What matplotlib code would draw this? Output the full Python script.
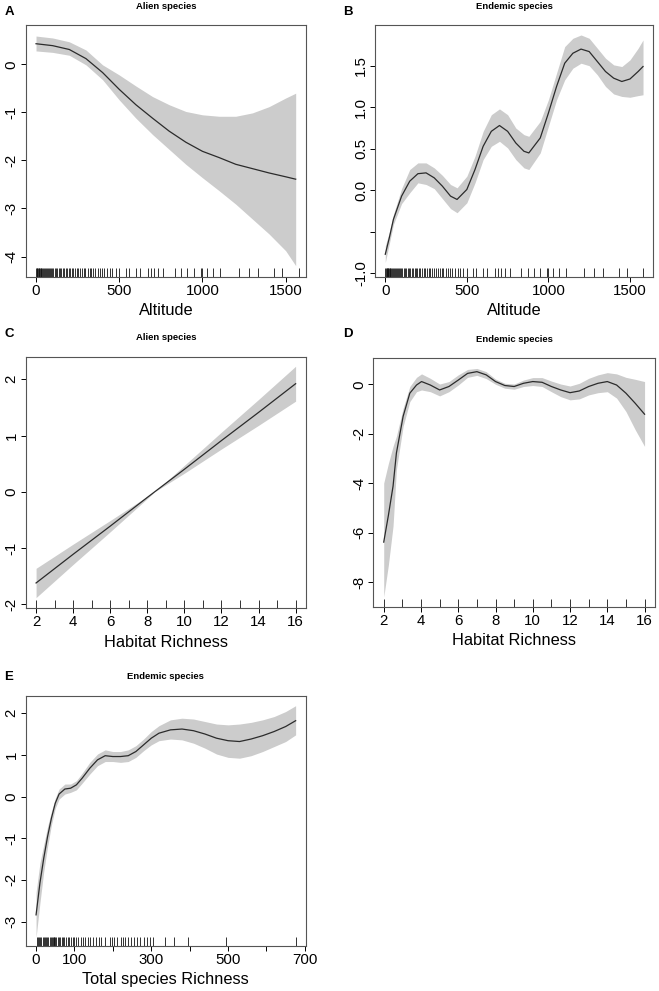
import numpy as np
import matplotlib
matplotlib.use("Agg")
import matplotlib.pyplot as plt
import matplotlib.transforms as mtransforms

plt.rcParams['font.family'] = ['Liberation Sans', 'DejaVu Sans']

# ---- panel A: alien species vs altitude
alt_a = [0, 100, 200, 300, 400, 500, 600, 700, 800, 900, 1000, 1100, 1200, 1300, 1400, 1500, 1560]
fit_a = [0.43, 0.39, 0.31, 0.12, -0.17, -0.52, -0.84, -1.12, -1.39, -1.62, -1.81, -1.94, -2.08, -2.17, -2.26, -2.34, -2.39]
hi_a = [0.59, 0.55, 0.47, 0.30, -0.01, -0.22, -0.45, -0.67, -0.84, -0.98, -1.05, -1.08, -1.08, -1.01, -0.88, -0.70, -0.60]
lo_a = [0.28, 0.25, 0.19, -0.01, -0.32, -0.74, -1.12, -1.46, -1.77, -2.08, -2.36, -2.63, -2.91, -3.22, -3.53, -3.88, -4.19]

# ---- panel B: endemic species vs altitude
alt_b = [0, 25, 50, 100, 150, 200, 250, 300, 350, 400, 440, 500, 550, 600, 650, 700, 750, 800, 850, 880,
         950, 1000, 1050, 1100, 1150, 1200, 1250, 1300, 1350, 1400, 1450, 1500, 1550, 1580]
fit_b = [-0.77, -0.57, -0.35, -0.07, 0.11, 0.20, 0.21, 0.15, 0.05, -0.07, -0.11, 0.01, 0.25, 0.53, 0.71, 0.78, 0.71, 0.57, 0.47, 0.45,
         0.63, 0.93, 1.25, 1.53, 1.65, 1.70, 1.67, 1.55, 1.43, 1.35, 1.31, 1.34, 1.43, 1.49]
hi_b = [-0.67, -0.50, -0.29, 0.02, 0.25, 0.33, 0.33, 0.27, 0.18, 0.07, 0.03, 0.17, 0.41, 0.71, 0.91, 0.98, 0.91, 0.75, 0.67, 0.65,
        0.83, 1.09, 1.41, 1.73, 1.83, 1.87, 1.83, 1.71, 1.59, 1.51, 1.49, 1.57, 1.71, 1.81]
lo_b = [-0.87, -0.64, -0.41, -0.16, -0.03, 0.09, 0.07, 0.02, -0.10, -0.22, -0.27, -0.15, 0.09, 0.37, 0.53, 0.59, 0.51, 0.37, 0.27, 0.25,
        0.45, 0.77, 1.09, 1.33, 1.47, 1.53, 1.50, 1.39, 1.25, 1.16, 1.13, 1.12, 1.14, 1.15]

alt_rug = [0, 4, 8, 12, 15, 19, 23, 27, 30, 35, 40, 46, 52, 58, 63, 70, 76, 83, 90, 97, 104, 112, 120, 128,
           137, 146, 153, 161, 170, 180, 188, 197, 205, 214, 225, 236, 244, 255, 266, 276, 288, 297, 310,
           322, 333, 345, 356, 370, 383, 398, 410, 425, 447, 458, 478, 498, 539, 559, 600, 626, 671, 691,
           711, 732, 762, 833, 874, 910, 948, 992, 1000, 1030, 1062, 1107, 1220, 1282, 1334, 1430, 1480, 1578]

# ---- panel C: alien species vs habitat richness (linear)
hab_c = [2, 4, 6, 8, 8.4, 10, 12, 14, 16]
fit_c = [-1.62, -1.11, -0.61, -0.10, 0.0, 0.40, 0.91, 1.41, 1.92]
hi_c = [-1.36, -0.93, -0.51, -0.08, 0.0, 0.47, 1.06, 1.64, 2.23]
lo_c = [-1.88, -1.29, -0.71, -0.12, 0.0, 0.33, 0.76, 1.18, 1.61]

# ---- panel D: endemic species vs habitat richness
hab_d = [2, 2.25, 2.5, 2.68, 3.04, 3.4, 3.76, 4.03, 4.5, 5, 5.5, 6, 6.5, 7, 7.5, 8, 8.5, 9, 9.5, 10,
         10.5, 11, 11.5, 12, 12.5, 13, 13.5, 14, 14.5, 15, 15.5, 16]
fit_d = [-6.38, -5.30, -4.12, -2.78, -1.30, -0.36, -0.03, 0.11, -0.03, -0.23, -0.09, 0.17, 0.44, 0.51, 0.38, 0.11, -0.05, -0.09, 0.04, 0.11,
         0.08, -0.09, -0.23, -0.34, -0.27, -0.09, 0.04, 0.11, -0.03, -0.36, -0.77, -1.21]
hi_d = [-3.99, -3.20, -2.51, -2.10, -0.97, -0.09, 0.28, 0.42, 0.24, 0.01, 0.11, 0.38, 0.60, 0.64, 0.51, 0.21, 0.04, 0.01, 0.17, 0.27,
        0.27, 0.13, 0.01, -0.07, 0.04, 0.24, 0.38, 0.47, 0.42, 0.28, 0.20, 0.11]
lo_d = [-8.60, -7.30, -5.73, -3.45, -1.70, -0.70, -0.30, -0.23, -0.30, -0.47, -0.30, -0.03, 0.28, 0.36, 0.23, 0.00, -0.16, -0.20, -0.09, -0.05,
        -0.09, -0.30, -0.50, -0.63, -0.59, -0.43, -0.34, -0.30, -0.56, -1.10, -1.84, -2.51]
hab_rug = [2, 3, 4, 5, 6, 7, 8, 9, 10, 11, 12, 13, 14, 15, 16]

# ---- panel E: endemic species vs total species richness
tot_e = [0, 10, 20, 30, 40, 50, 60, 75, 90, 105, 120, 140, 160, 180, 200, 220, 240, 260, 280, 300,
         320, 350, 380, 410, 440, 470, 500, 530, 560, 590, 620, 650, 676]
fit_e = [-2.84, -2.08, -1.48, -0.96, -0.52, -0.16, 0.06, 0.18, 0.20, 0.28, 0.44, 0.68, 0.88, 0.98, 0.96, 0.96, 0.98, 1.08, 1.24, 1.40,
         1.52, 1.60, 1.62, 1.58, 1.50, 1.40, 1.34, 1.32, 1.38, 1.46, 1.56, 1.68, 1.82]
hi_e = [-2.30, -1.60, -1.16, -0.72, -0.36, -0.04, 0.18, 0.30, 0.30, 0.38, 0.56, 0.82, 1.02, 1.12, 1.08, 1.08, 1.12, 1.22, 1.38, 1.56,
        1.70, 1.84, 1.88, 1.86, 1.80, 1.74, 1.72, 1.74, 1.78, 1.84, 1.92, 2.04, 2.18]
lo_e = [-3.38, -2.56, -1.80, -1.20, -0.68, -0.28, -0.06, 0.06, 0.10, 0.16, 0.32, 0.54, 0.74, 0.84, 0.84, 0.82, 0.84, 0.94, 1.10, 1.24,
        1.34, 1.38, 1.36, 1.28, 1.16, 1.02, 0.94, 0.92, 0.98, 1.08, 1.20, 1.32, 1.48]
tot_rug = [2, 5, 8, 11, 14, 17, 20, 23, 26, 29, 32, 35, 38, 41, 44, 46, 48, 50, 53, 56, 60, 63, 67, 70, 74,
           78, 82, 86, 90, 95, 100, 105, 110, 116, 122, 128, 134, 140, 148, 155, 163, 170, 180, 192, 198,
           204, 212, 220, 226, 232, 240, 248, 256, 262, 270, 280, 290, 298, 305, 337, 360, 395, 494, 676]

W, H = 659, 991
fig = plt.figure(figsize=(W / 100, H / 100), dpi=100)


def px_axes(l, t, r, b):
    return fig.add_axes([l / W, 1 - b / H, (r - l) / W, (b - t) / H])


def panel(ax, x, fit, lo, hi, rug, xlim, ylim, xticks, xlabels, yticks, ylabels, xlabel, title, letter, lpos):
    ax.fill_between(x, lo, hi, color='#cccccc', lw=0)
    ax.plot(x, fit, color='#2b2b2b', lw=0.9)
    trans = mtransforms.blended_transform_factory(ax.transData, ax.transAxes)
    ax.vlines(rug, 0, 0.033, transform=trans, color='#111111', lw=0.6)
    ax.set_xlim(*xlim)
    ax.set_ylim(*ylim)
    ax.set_xticks(xticks)
    ax.set_xticklabels(xlabels)
    ax.set_yticks(yticks)
    ax.set_yticklabels(ylabels, rotation=90, va='center')
    ax.tick_params(direction='out', length=3.6, width=0.7, labelsize=10.8, pad=1.5)
    for s in ax.spines.values():
        s.set_color('#555555')
        s.set_linewidth(0.8)
    ax.set_xlabel(xlabel, fontsize=11.8, labelpad=4)
    ax.annotate(title, xy=(0.5, 1), xycoords='axes fraction', xytext=(0, 13.5),
                textcoords='offset points', ha='center', va='center', fontsize=6.8, fontweight='bold')
    fig.text(lpos[0] / W, 1 - lpos[1] / H, letter, ha='center', va='center', fontsize=9.5, fontweight='bold')


axA = px_axes(25.7, 25, 306, 276.7)
panel(axA, alt_a, fit_a, lo_a, hi_a, alt_rug, (-62, 1622), (-4.42, 0.82),
      [0, 500, 1000, 1500], ['0', '500', '1000', '1500'],
      [0, -1, -2, -3, -4], ['0', '-1', '-2', '-3', '-4'],
      'Altitude', 'Alien species', 'A', (9, 12))

axB = px_axes(375, 25, 653.3, 276.7)
panel(axB, alt_b, fit_b, lo_b, hi_b, alt_rug, (-63, 1643), (-1.04, 1.99),
      [0, 500, 1000, 1500], ['0', '500', '1000', '1500'],
      [-1.0, -0.5, 0.0, 0.5, 1.0, 1.5], ['-1.0', '', '0.0', '0.5', '1.0', '1.5'],
      'Altitude', 'Endemic species', 'B', (348, 12))

axC = px_axes(25.7, 356.7, 306, 608.3)
panel(axC, hab_c, fit_c, lo_c, hi_c, hab_rug, (1.44, 16.56), (-2.07, 2.40),
      list(range(2, 17, 2)), [str(v) for v in range(2, 17, 2)],
      [2, 1, 0, -1, -2], ['2', '1', '0', '-1', '-2'],
      'Habitat Richness', 'Alien species', 'C', (9, 334))

axD = px_axes(373.3, 358.3, 655, 606.7)
panel(axD, hab_d, fit_d, lo_d, hi_d, hab_rug, (1.44, 16.56), (-8.99, 1.05),
      list(range(2, 17, 2)), [str(v) for v in range(2, 17, 2)],
      [0, -2, -4, -6, -8], ['0', '-2', '-4', '-6', '-8'],
      'Habitat Richness', 'Endemic species', 'D', (348, 334))

axE = px_axes(25.7, 695.7, 306, 945.7)
panel(axE, tot_e, fit_e, lo_e, hi_e, tot_rug, (-27, 703), (-3.58, 2.42),
      list(range(0, 701, 100)), ['0', '100', '', '300', '', '500', '', '700'],
      [2, 1, 0, -1, -2, -3], ['2', '1', '0', '-1', '-2', '-3'],
      'Total species Richness', 'Endemic species', 'E', (9, 677))

fig.savefig('out.png', dpi=100)
